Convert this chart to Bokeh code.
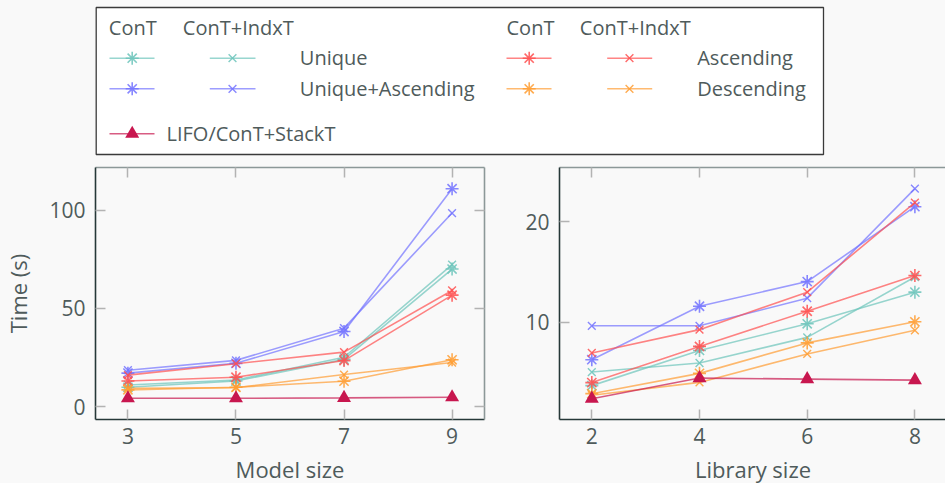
from bokeh.plotting import figure
from bokeh.layouts import column, row
from bokeh.models import Range1d, LinearAxis, FixedTicker
from bokeh.core.properties import value
from bokeh.embed import file_html
from bokeh.resources import INLINE

# ---------------- data ----------------
model_sizes = [3, 5, 7, 9]
library_sizes = [2, 4, 6, 8]

# Model size panel (Time in s)
model_unique_cont = [9.8, 13.0, 24.0, 70.0]
model_unique_indxt = [11.0, 13.5, 25.1, 72.3]
model_uasc_cont = [17.0, 22.0, 38.2, 110.9]
model_uasc_indxt = [18.5, 23.5, 39.9, 98.5]
model_asc_cont = [13.0, 14.9, 23.4, 56.7]
model_asc_indxt = [16.0, 21.8, 27.7, 59.1]
model_desc_cont = [8.5, 9.8, 12.9, 23.8]
model_desc_indxt = [9.3, 9.6, 16.3, 22.4]
model_lifo = [4.2, 4.2, 4.4, 4.7]

# Library size panel (Time in s)
lib_unique_cont = [3.7, 7.2, 9.85, 13.0]
lib_unique_indxt = [5.05, 5.95, 8.5, 14.5]
lib_uasc_cont = [6.28, 11.6, 14.05, 21.5]
lib_uasc_indxt = [9.65, 9.65, 12.4, 23.3]
lib_asc_cont = [4.0, 7.6, 11.1, 14.65]
lib_asc_indxt = [6.95, 9.27, 13.0, 21.9]
lib_desc_cont = [2.9, 4.92, 7.95, 10.05]
lib_desc_indxt = [2.75, 4.02, 6.85, 9.2]
lib_lifo = [2.4, 4.45, 4.35, 4.25]

model_ticks = [3, 5, 7, 9]
model_yticks = [0, 50, 100]
library_ticks = [2, 4, 6, 8]
library_yticks = [10, 20]

series_names = ["Unique", "Unique+Ascending", "Ascending", "Descending"]
legend_headers = ["ConT", "ConT+IndxT"]
lifo_label = "LIFO/ConT+StackT"

# ---------------- style ----------------
FONT = "Open Sans"
TEXT = "#4f5b5b"
BG = "#f9f9f9"
DARK = "#263838"
LIGHT = "#8c9898"
TICK = "#b3b3b3"
COLORS = {
    "Unique": "#6cc4bb",
    "Unique+Ascending": "#7373ff",
    "Ascending": "#ff5050",
    "Descending": "#ff9d33",
}
LIFO_COLOR = "#c8174f"

model_series = [
    ("Unique", "asterisk", model_unique_cont),
    ("Unique", "x", model_unique_indxt),
    ("Unique+Ascending", "asterisk", model_uasc_cont),
    ("Unique+Ascending", "x", model_uasc_indxt),
    ("Ascending", "asterisk", model_asc_cont),
    ("Ascending", "x", model_asc_indxt),
    ("Descending", "asterisk", model_desc_cont),
    ("Descending", "x", model_desc_indxt),
]
lib_series = [
    ("Unique", "asterisk", lib_unique_cont),
    ("Unique", "x", lib_unique_indxt),
    ("Unique+Ascending", "asterisk", lib_uasc_cont),
    ("Unique+Ascending", "x", lib_uasc_indxt),
    ("Ascending", "asterisk", lib_asc_cont),
    ("Ascending", "x", lib_asc_indxt),
    ("Descending", "asterisk", lib_desc_cont),
    ("Descending", "x", lib_desc_indxt),
]


def style_axis(ax, main=True):
    ax.major_tick_in = 10
    ax.major_tick_out = 0
    ax.major_tick_line_color = TICK
    ax.major_tick_line_width = 1.5
    ax.minor_tick_line_color = None
    ax.axis_line_color = DARK if main else LIGHT
    ax.axis_line_width = 1.6
    ax.major_label_text_font = FONT
    ax.axis_label_text_font = FONT
    ax.axis_label_text_color = TEXT
    ax.axis_label_text_font_style = "normal"
    ax.axis_label_text_font_size = "22px"
    if main:
        ax.major_label_text_font_size = "21px"
        ax.major_label_text_color = TEXT
    else:
        ax.major_label_text_font_size = "1px"
        ax.major_label_text_color = None
        ax.major_label_standoff = 0


def make_plot(xs, series, lifo, xr, yr, xticks, yticks, xlabel, ylabel,
              min_left, min_right, fw, right_axis):
    p = figure(frame_width=fw, frame_height=252,
               x_range=Range1d(*xr), y_range=Range1d(*yr),
               output_backend="svg", toolbar_location=None,
               min_border_left=min_left, min_border_right=min_right,
               min_border_top=7, min_border_bottom=64,
               x_axis_location=None, y_axis_location=None)
    p.background_fill_color = BG
    p.border_fill_color = BG
    p.outline_line_color = None

    bottom = LinearAxis(ticker=FixedTicker(ticks=xticks), axis_label=xlabel)
    style_axis(bottom)
    bottom.major_label_standoff = 8
    bottom.axis_label_standoff = 7
    p.add_layout(bottom, "below")

    left = LinearAxis(ticker=FixedTicker(ticks=yticks), axis_label=ylabel)
    style_axis(left)
    left.major_label_standoff = 10
    left.axis_label_standoff = 13
    p.add_layout(left, "left")

    top = LinearAxis(ticker=FixedTicker(ticks=xticks))
    style_axis(top, main=False)
    p.add_layout(top, "above")

    if right_axis:
        r = LinearAxis(ticker=FixedTicker(ticks=yticks))
        style_axis(r, main=False)
        p.add_layout(r, "right")

    p.xgrid.visible = False
    p.ygrid.visible = False

    for name, marker, ys in series:
        c = COLORS[name]
        p.line(xs, ys, line_color=c, line_width=1.6, line_alpha=0.7)
        if marker == "asterisk":
            p.scatter(xs, ys, marker="asterisk", size=13, line_color=c,
                      line_width=1.6, line_alpha=0.85)
        else:
            p.scatter(xs, ys, marker="x", size=11, line_color=c,
                      line_width=1.4, line_alpha=0.85)
    p.line(xs, lifo, line_color=LIFO_COLOR, line_width=1.6, line_alpha=0.7)
    p.scatter(xs, lifo, marker="triangle", size=14, fill_color=LIFO_COLOR,
              line_color=None)
    return p


left_plot = make_plot(model_sizes, model_series, model_lifo, (2.4, 9.6),
                      (-6.6, 121.7), model_ticks, model_yticks,
                      "Model size", "Time (s)", 94, 15, 389, True)
right_plot = make_plot(library_sizes, lib_series, lib_lifo, (1.4, 8.587),
                       (0.33, 25.4), library_ticks, library_yticks,
                       "Library size", None, 60, 0, 387, False)

# ---------------- legend panel ----------------
LW, LH = 945, 160
leg = figure(frame_width=LW, frame_height=LH, x_range=Range1d(0, LW),
             y_range=Range1d(LH, 0), min_border=0, output_backend="svg",
             toolbar_location=None, x_axis_location=None, y_axis_location=None)
leg.background_fill_color = BG
leg.border_fill_color = BG
leg.outline_line_color = None
leg.xgrid.visible = False
leg.ygrid.visible = False

leg.quad(left=[95.7], right=[823], top=[7], bottom=[154], fill_color="#ffffff",
         line_color="#3a3a3a", line_width=1.3)

FS = "20px"
DY = -7  # baseline correction
head_x = [108.3, 182.3, 506.0, 579.3]
leg.text(x=head_x, y=[34 + DY] * 4, text=legend_headers * 2,
         text_font=value(FONT), text_font_size=FS, text_color=TEXT,
         text_baseline="alphabetic")

row_y = [57.7, 88.3]
row_base = [64.3 + DY, 95.0 + DY]
groups = [
    (series_names[:2], (109, 154, 131.7), (209.3, 255, 232), 299.3),
    (series_names[2:], (506, 551, 528.7), (606.7, 651.7, 629), 696.7),
]
for names, s1, s2, lx in groups:
    for i, nm in enumerate(names):
        c = COLORS[nm]
        y = row_y[i]
        for (x0, x1, xm), mk in ((s1, "asterisk"), (s2, "x")):
            leg.segment(x0=[x0], y0=[y], x1=[x1], y1=[y], line_color=c,
                        line_width=1.6, line_alpha=0.7)
            if mk == "asterisk":
                leg.scatter([xm], [y], marker="asterisk", size=13, line_color=c,
                            line_width=1.6, line_alpha=0.85)
            else:
                leg.scatter([xm], [y], marker="x", size=11, line_color=c,
                            line_width=1.4, line_alpha=0.85)
        leg.text(x=[lx], y=[row_base[i]], text=[nm], text_font=value(FONT),
                 text_font_size=FS, text_color=TEXT, text_baseline="alphabetic")

ly = 133.3
leg.segment(x0=[109], y0=[ly], x1=[154], y1=[ly], line_color=LIFO_COLOR,
            line_width=1.6, line_alpha=0.7)
leg.scatter([131.7], [ly], marker="triangle", size=14, fill_color=LIFO_COLOR,
            line_color=None)
leg.text(x=[166], y=[140 + DY], text=[lifo_label], text_font=value(FONT),
         text_font_size=FS, text_color=TEXT, text_baseline="alphabetic")

layout = column(leg, row(left_plot, right_plot, spacing=0), spacing=0)
layout.styles = {"background-color": BG}

open("out.html", "w").write(file_html(layout, INLINE, title="Timing"))
